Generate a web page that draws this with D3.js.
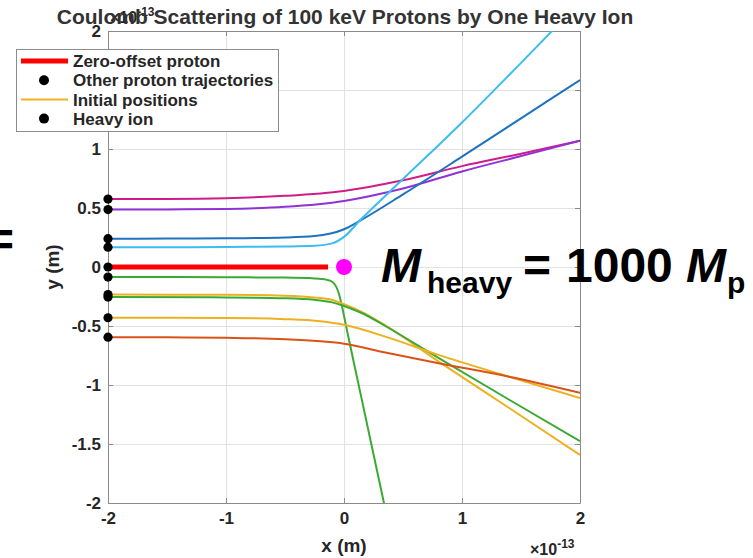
<!DOCTYPE html>
<html>
<head>
<meta charset="utf-8">
<script src="https://cdn.jsdelivr.net/npm/d3@7"></script>
<style>
  body { margin: 0; background: #fff; }
  svg { display: block; font-family: "Liberation Sans", Arial, sans-serif; }
</style>
</head>
<body>
<svg id="chart" width="753" height="558"></svg>
<script>
// all positions in units of 1e-13 m
const xTicks = [-2, -1, 0, 1, 2];
const yTicks = [-2, -1.5, -1, -0.5, 0, 0.5, 1, 1.5, 2];

// starting offsets of the protons (x = -2)
const initialY = [0.576, 0.487, 0.24, 0.168, 0, -0.085, -0.234, -0.255, -0.43, -0.595];

const zeroOffset = [[-2, 0], [-0.135, 0]];
const heavyIon = [[0, 0]];

// trajectories, top to bottom
const trajMagenta = [[-2, 0.576], [-1.5, 0.577], [-1, 0.583], [-0.5, 0.603], [0, 0.645], [0.5, 0.735], [1, 0.855], [1.5, 0.96], [2, 1.07]];
const trajPurple = [[-2, 0.487], [-1.5, 0.488], [-1, 0.492], [-0.5, 0.51], [0, 0.56], [0.5, 0.665], [1, 0.81], [1.5, 0.94], [2, 1.07]];
const trajBlue = [[-2, 0.24], [-1.5, 0.241], [-1, 0.243], [-0.5, 0.25], [-0.25, 0.262], [0, 0.32], [0.14, 0.395], [0.5, 0.615], [1, 0.935], [1.5, 1.26], [2, 1.585]];
const trajCyan = [[-2, 0.168], [-1.5, 0.168], [-1, 0.17], [-0.5, 0.174], [-0.25, 0.18], [-0.1, 0.2], [0, 0.255], [0.14, 0.4], [0.5, 0.745], [1, 1.225], [1.5, 1.73], [1.9, 2.14]];
const trajGreenSteep = [[-2, -0.085], [-1, -0.087], [-0.5, -0.09], [-0.25, -0.097], [-0.15, -0.107], [-0.1, -0.125], [-0.07, -0.16], [-0.045, -0.22], [-0.02, -0.32], [0.03, -0.56], [0.12, -0.98], [0.36, -2.1]];
const trajYellowNear = [[-2, -0.234], [-1, -0.236], [-0.5, -0.243], [-0.25, -0.258], [-0.1, -0.28], [0, -0.315], [0.15, -0.38], [0.35, -0.495], [0.8, -0.8], [1.4, -1.195], [2, -1.593]];
const trajGreen = [[-2, -0.255], [-1, -0.258], [-0.5, -0.265], [-0.25, -0.278], [-0.1, -0.3], [0, -0.33], [0.15, -0.39], [0.35, -0.5], [0.8, -0.77], [1.4, -1.125], [2, -1.475]];
const trajYellowFar = [[-2, -0.43], [-1, -0.432], [-0.5, -0.442], [-0.2, -0.46], [0, -0.49], [0.35, -0.59], [0.8, -0.745], [1.4, -0.93], [2, -1.11]];
const trajOrange = [[-2, -0.595], [-1.5, -0.596], [-1, -0.6], [-0.5, -0.612], [-0.2, -0.63], [0, -0.65], [0.35, -0.725], [0.8, -0.815], [1.4, -0.93], [2, -1.066]];

const trajectories = [
  { pts: trajMagenta, color: '#d01c8b' },
  { pts: trajPurple, color: '#9132d6' },
  { pts: trajBlue, color: '#1f72bf' },
  { pts: trajCyan, color: '#3dbdee' },
  { pts: trajGreenSteep, color: '#3aaa35' },
  { pts: trajYellowNear, color: '#edb120' },
  { pts: trajGreen, color: '#3aaa35' },
  { pts: trajYellowFar, color: '#edb120' },
  { pts: trajOrange, color: '#d95319' }
];

const legendItems = [
  { label: 'Zero-offset proton', kind: 'line', color: '#ff0000', width: 5 },
  { label: 'Other proton trajectories', kind: 'dot', color: '#000' },
  { label: 'Initial positions', kind: 'line', color: '#edb120', width: 2 },
  { label: 'Heavy ion', kind: 'dot', color: '#000' }
];

const svg = d3.select('#chart');
const textColor = '#262626';
const axisColor = '#8a8a8a';

const x = d3.scaleLinear().domain([-2, 2]).range([108, 580]);
const y = d3.scaleLinear().domain([-2, 2]).range([503, 31]);

// grid
const grid = svg.append('g')
  .attr('stroke', '#e2e2e2')
  .attr('shape-rendering', 'crispEdges');
grid.selectAll('.gx').data(xTicks).join('line')
  .attr('x1', (d) => x(d)).attr('x2', (d) => x(d))
  .attr('y1', y(-2)).attr('y2', y(2));
grid.selectAll('.gy').data(yTicks).join('line')
  .attr('y1', (d) => y(d)).attr('y2', (d) => y(d))
  .attr('x1', x(-2)).attr('x2', x(2));

// axes, ticks pointing inward like matlab
const fmt = (d) => String(d);
function styleAxis(g) {
  g.select('.domain').attr('stroke', axisColor);
  g.selectAll('.tick line').attr('stroke', axisColor);
  g.selectAll('.tick text')
    .attr('fill', textColor)
    .attr('font-size', '17px')
    .attr('font-weight', 'bold');
}
svg.append('g')
  .attr('transform', `translate(0, ${y(-2)})`)
  .call(d3.axisBottom(x).tickValues(xTicks).tickSizeInner(-5).tickSizeOuter(0).tickPadding(9).tickFormat(fmt))
  .call(styleAxis);
svg.append('g')
  .attr('transform', `translate(${x(-2)}, 0)`)
  .call(d3.axisLeft(y).tickValues(yTicks).tickSizeInner(-5).tickSizeOuter(0).tickPadding(7).tickFormat(fmt))
  .call(styleAxis);
svg.append('g')
  .attr('transform', `translate(0, ${y(2)})`)
  .call(d3.axisTop(x).tickValues(xTicks).tickSizeInner(-5).tickSizeOuter(0).tickFormat(''))
  .call(styleAxis);
svg.append('g')
  .attr('transform', `translate(${x(2)}, 0)`)
  .call(d3.axisRight(y).tickValues(yTicks).tickSizeInner(-5).tickSizeOuter(0).tickFormat(''))
  .call(styleAxis);

// trajectories
svg.append('clipPath').attr('id', 'plot-clip')
  .append('rect')
  .attr('x', x(-2)).attr('y', y(2))
  .attr('width', x(2) - x(-2)).attr('height', y(-2) - y(2));

let line = d3.line()
  .x((d) => x(d[0]))
  .y((d) => y(d[1]))
  .curve(d3.curveMonotoneX);

let lines = svg.append('g').attr('clip-path', 'url(#plot-clip)');
lines.selectAll('path.traj').data(trajectories).join('path')
  .attr('class', 'traj')
  .attr('fill', 'none')
  .attr('stroke', (d) => d.color)
  .attr('stroke-width', 2)
  .attr('d', (d) => line(d.pts));

lines.append('path')
  .datum(zeroOffset)
  .attr('fill', 'none')
  .attr('stroke', '#ff0000')
  .attr('stroke-width', 5)
  .attr('d', line);

// initial positions
svg.append('g').selectAll('circle').data(initialY).join('circle')
  .attr('cx', x(-2))
  .attr('cy', (d) => y(d))
  .attr('r', 4.6)
  .attr('fill', '#000');

svg.append('g').selectAll('circle').data(heavyIon).join('circle')
  .attr('cx', (d) => x(d[0]))
  .attr('cy', (d) => y(d[1]))
  .attr('r', 8)
  .attr('fill', '#ff00ff');

// axis labels and exponents
svg.append('text')
  .attr('x', x(0)).attr('y', 552)
  .attr('text-anchor', 'middle')
  .attr('font-size', '19px').attr('font-weight', 'bold')
  .attr('fill', textColor)
  .text('x (m)');
svg.append('text')
  .attr('transform', `translate(59, ${y(0)}) rotate(-90)`)
  .attr('text-anchor', 'middle')
  .attr('font-size', '19px').attr('font-weight', 'bold')
  .attr('fill', textColor)
  .text('y (m)');

function exponent(px, py) {
  let t = svg.append('text')
    .attr('x', px).attr('y', py)
    .attr('font-size', '16px').attr('font-weight', 'bold')
    .attr('fill', textColor);
  t.append('tspan').text('×10');
  t.append('tspan').attr('dy', -7).attr('font-size', '12px').text('-13');
}
exponent(530, 555);
exponent(110, 23);

// title
svg.append('text')
  .attr('x', 345).attr('y', 24)
  .attr('text-anchor', 'middle')
  .attr('font-size', '21px').attr('font-weight', 'bold')
  .attr('fill', '#333')
  .text('Coulomb Scattering of 100 keV Protons by One Heavy Ion');

// legend
let legend = svg.append('g');
legend.append('rect')
  .attr('x', 16.5).attr('y', 49.5)
  .attr('width', 262).attr('height', 82)
  .attr('fill', '#fff')
  .attr('stroke', '#8c8c8c');
legendItems.forEach((item, i) => {
  let cy = 61 + i * 19.2;
  if (item.kind === 'line') {
    legend.append('line')
      .attr('x1', 21).attr('x2', 68)
      .attr('y1', cy).attr('y2', cy)
      .attr('stroke', item.color)
      .attr('stroke-width', item.width);
  } else {
    legend.append('circle')
      .attr('cx', 44).attr('cy', cy).attr('r', 5)
      .attr('fill', item.color);
  }
  legend.append('text')
    .attr('x', 73).attr('y', cy)
    .attr('dy', '0.36em')
    .attr('font-size', '17px').attr('font-weight', 'bold')
    .attr('fill', textColor)
    .text(item.label);
});

// annotation
function big(txt, px, py, size, italic) {
  svg.append('text')
    .attr('x', px).attr('y', py)
    .attr('font-size', size + 'px').attr('font-weight', 'bold')
    .attr('font-style', italic ? 'italic' : 'normal')
    .attr('fill', '#000')
    .text(txt);
}
big('=', -14, 256, 48, false);
big('M', 381, 282, 48, true);
big('heavy', 427, 293, 30, false);
big('=', 523, 282, 48, false);
big('1000', 566, 282, 48, false);
big('M', 686, 282, 48, true);
big('p', 727, 293, 30, false);
</script>
</body>
</html>
